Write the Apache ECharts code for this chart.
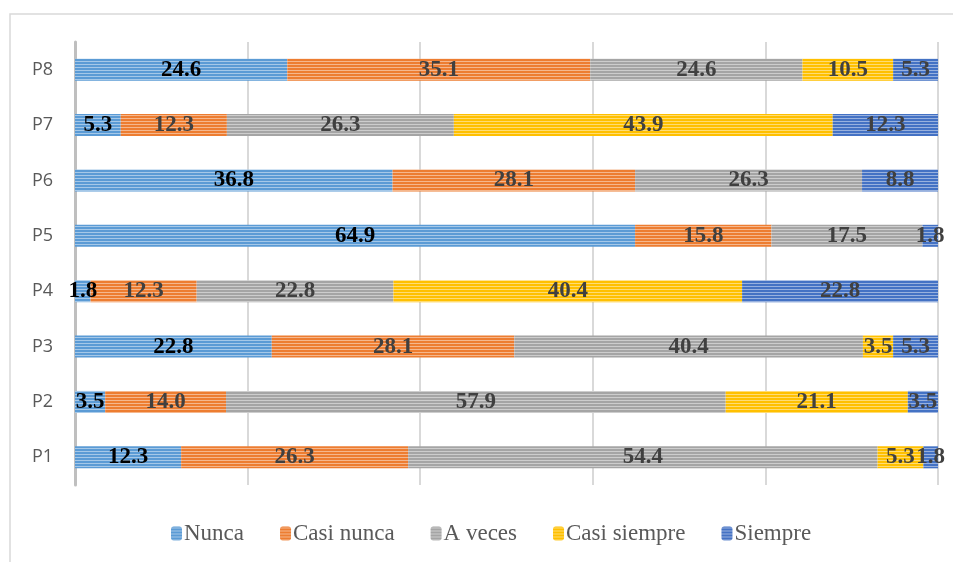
<!DOCTYPE html>
<html>
<head>
<meta charset="utf-8">
<script src="https://cdn.jsdelivr.net/npm/echarts@6/dist/echarts.min.js"></script>
<style>
  html, body { margin: 0; padding: 0; background: #fff; }
  #chart { width: 953px; height: 562px; }
</style>
</head>
<body>
<div id="chart"></div>
<script>
// Questions (bottom to top)
const categories = ['P1', 'P2', 'P3', 'P4', 'P5', 'P6', 'P7', 'P8'];

// Percentages per response option, one value per question
const nunca        = [12.3,  3.5, 22.8,  1.8, 64.9, 36.8,  5.3, 24.6];
const casiNunca    = [26.3, 14.0, 28.1, 12.3, 15.8, 28.1, 12.3, 35.1];
const aVeces       = [54.4, 57.9, 40.4, 22.8, 17.5, 26.3, 26.3, 24.6];
const casiSiempre  = [ 5.3, 21.1,  3.5, 40.4,  0.0,  0.0, 43.9, 10.5];
const siempre      = [ 1.8,  3.5,  5.3, 22.8,  1.8,  8.8, 12.3,  5.3];

const seriesNames = ['Nunca', 'Casi nunca', 'A veces', 'Casi siempre', 'Siempre'];
const seriesData = [nunca, casiNunca, aVeces, casiSiempre, siempre];
const baseColors = ['#5B9BD5', '#ED7D31', '#A5A5A5', '#FFC000', '#4472C4'];
const labelColors = ['#000000', '#404040', '#404040', '#404040', '#404040'];

// Horizontal stripe fill: base colour with a lighter line every third pixel row
function stripes(hex) {
  const c = document.createElement('canvas');
  c.width = 4; c.height = 3;
  const ctx = c.getContext('2d');
  ctx.fillStyle = hex;
  ctx.fillRect(0, 0, 4, 3);
  ctx.fillStyle = 'rgba(255,255,255,0.45)';
  ctx.fillRect(0, 1, 4, 1);
  return { image: c, repeat: 'repeat' };
}

const chart = echarts.init(document.getElementById('chart'), null, { renderer: 'canvas' });

const series = seriesNames.map((name, i) => ({
  name: name,
  type: 'bar',
  stack: 'total',
  barWidth: 22,
  data: seriesData[i],
  itemStyle: { color: stripes(baseColors[i]) },
  label: {
    show: true,
    position: 'inside',
    fontFamily: 'Liberation Serif',
    fontWeight: 'bold',
    fontSize: 23,
    color: labelColors[i],
    formatter: p => (p.value ? p.value.toFixed(1) : '')
  },
  emphasis: { disabled: true }
}));

chart.setOption({
  animation: false,
  backgroundColor: '#ffffff',
  graphic: [{
    type: 'rect',
    shape: { x: 10, y: 14, width: 960, height: 560 },
    style: { fill: 'none', stroke: '#d9d9d9', lineWidth: 1.5 },
    silent: true,
    z: -1
  }],
  grid: { left: 75, right: 15, top: 42, bottom: 77, containLabel: false },
  legend: {
    bottom: 12,
    left: 166,
    itemWidth: 11,
    itemHeight: 14,
    itemGap: 36,
    textStyle: { fontFamily: 'Liberation Serif', fontSize: 23, color: '#595959', padding: [0, 0, 0, -3] },
    data: seriesNames
  },
  xAxis: {
    type: 'value',
    min: 0,
    max: 100,
    interval: 20,
    axisLine: { show: false },
    axisTick: { show: false },
    axisLabel: { show: false },
    splitLine: { show: true, lineStyle: { color: '#d9d9d9', width: 2 } }
  },
  yAxis: {
    type: 'category',
    data: categories,
    axisLine: { show: true, lineStyle: { color: '#bfbfbf', width: 3 } },
    axisTick: { show: false },
    axisLabel: { fontFamily: 'Open Sans', fontSize: 18, color: '#595959', margin: 22 }
  },
  series: series
});
</script>
</body>
</html>
